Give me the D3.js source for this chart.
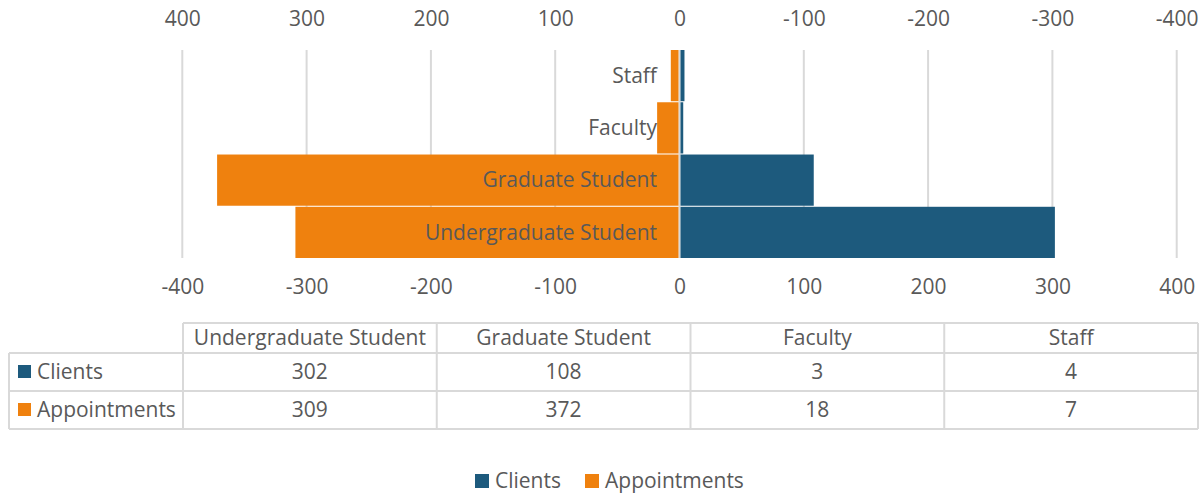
<!DOCTYPE html>
<html>
<head>
<meta charset="utf-8">
<script src="https://d3js.org/d3.v7.min.js"></script>
<style>
    body { margin: 0; background: #fff; }
    svg { display: block; font-family: 'Open Sans', sans-serif; }
</style>
</head>
<body>
<div id="chart"></div>
<script>
const w = 1201
const h = 496

const categories = ['Undergraduate Student', 'Graduate Student', 'Faculty', 'Staff']
const clients = [302, 108, 3, 4]
const appointments = [309, 372, 18, 7]
const tickValues = [-400, -300, -200, -100, 0, 100, 200, 300, 400]
const seriesNames = ['Clients', 'Appointments']
const colors = ['#1d5a7d', '#ef810e']

const textColor = '#595959'
const gridColor = '#d9d9d9'
const fontSize = 21

const svg = d3.select('#chart')
    .append('svg')
    .attr('width', w)
    .attr('height', h)

const xScale = d3.scaleLinear()
    .domain([-400, 400])
    .range([182.3, 1176.7])

// secondary (top) axis runs the other way
const xTop = d3.scaleLinear()
    .domain([400, -400])
    .range([182.3, 1176.7])

const yScale = d3.scaleBand()
    .domain(categories.slice().reverse())
    .range([50, 258])
    .paddingInner(0.02)

// gridlines
svg.append('g')
    .selectAll('line')
    .data(tickValues)
    .enter()
    .append('line')
    .attr('x1', d => xScale(d))
    .attr('x2', d => xScale(d))
    .attr('y1', 50)
    .attr('y2', 258)
    .attr('stroke', gridColor)
    .attr('stroke-width', 2)

// appointments go left as negatives
svg.append('g')
    .selectAll('rect')
    .data(categories)
    .enter()
    .append('rect')
    .attr('x', (d, i) => xScale(-appointments[i]))
    .attr('y', d => yScale(d))
    .attr('width', (d, i) => xScale(0) - xScale(-appointments[i]) - 1)
    .attr('height', yScale.bandwidth())
    .attr('fill', colors[1])

svg.append('g')
    .selectAll('rect')
    .data(categories)
    .enter()
    .append('rect')
    .attr('x', xScale(0) + 1)
    .attr('y', d => yScale(d))
    .attr('width', (d, i) => xScale(clients[i]) - xScale(0) - 1)
    .attr('height', yScale.bandwidth())
    .attr('fill', colors[0])

// category labels
svg.append('g')
    .selectAll('text')
    .data(categories)
    .enter()
    .append('text')
    .attr('x', 657)
    .attr('y', d => yScale(d) + yScale.bandwidth() / 2)
    .attr('dy', '0.35em')
    .attr('text-anchor', 'end')
    .attr('fill', textColor)
    .style('font-size', fontSize + 'px')
    .text(d => d)

// plain hyphen for negatives, like the original
const fmt = d => String(d)

const xAxisTop = d3.axisTop(xTop)
    .tickValues(tickValues)
    .tickFormat(fmt)
    .tickSize(0)
    .tickPadding(0)

const xAxisBottom = d3.axisBottom(xScale)
    .tickValues(tickValues)
    .tickFormat(fmt)
    .tickSize(0)
    .tickPadding(0)

svg.append('g')
    .attr('transform', 'translate(0, 26)')
    .call(xAxisTop)
    .call(g => g.select('.domain').remove())
    .call(g => g.selectAll('text')
        .attr('fill', textColor)
        .style('font-size', fontSize + 'px')
        .style('font-family', "'Open Sans', sans-serif"))

svg.append('g')
    .attr('transform', 'translate(0, 279)')
    .call(xAxisBottom)
    .call(g => g.select('.domain').remove())
    .call(g => g.selectAll('text')
        .attr('fill', textColor)
        .style('font-size', fontSize + 'px')
        .style('font-family', "'Open Sans', sans-serif"))

// data table
const colEdges = d3.range(5).map(i => 183 + i * 253.75)
const rowEdges = [323, 353, 391, 429]
const labelLeft = 9
const table = svg.append('g')
    .attr('stroke', gridColor)
    .attr('stroke-width', 2)

table.append('line')
    .attr('x1', colEdges[0]).attr('x2', colEdges[4])
    .attr('y1', rowEdges[0]).attr('y2', rowEdges[0])
table.selectAll('.hrow')
    .data(rowEdges.slice(1))
    .enter()
    .append('line')
    .attr('x1', labelLeft).attr('x2', colEdges[4])
    .attr('y1', d => d).attr('y2', d => d)
table.selectAll('.vcol')
    .data(colEdges)
    .enter()
    .append('line')
    .attr('x1', d => d).attr('x2', d => d)
    .attr('y1', rowEdges[0]).attr('y2', rowEdges[3])
table.append('line')
    .attr('x1', labelLeft).attr('x2', labelLeft)
    .attr('y1', rowEdges[1]).attr('y2', rowEdges[3])

const tableText = svg.append('g')
    .attr('fill', textColor)
    .style('font-size', fontSize + 'px')

tableText.selectAll('.head')
    .data(categories)
    .enter()
    .append('text')
    .attr('x', (d, i) => (colEdges[i] + colEdges[i + 1]) / 2)
    .attr('y', (rowEdges[0] + rowEdges[1]) / 2)
    .attr('dy', '0.35em')
    .attr('text-anchor', 'middle')
    .text(d => d)

const rows = [clients, appointments]
rows.forEach((vals, r) => {
    const cy = (rowEdges[r + 1] + rowEdges[r + 2]) / 2
    svg.append('rect')
        .attr('x', 18)
        .attr('y', cy - 7)
        .attr('width', 13)
        .attr('height', 13)
        .attr('fill', colors[r])
    tableText.append('text')
        .attr('x', 37)
        .attr('y', cy)
        .attr('dy', '0.35em')
        .text(seriesNames[r])
    tableText.selectAll('.v' + r)
        .data(vals)
        .enter()
        .append('text')
        .attr('x', (d, i) => (colEdges[i] + colEdges[i + 1]) / 2)
        .attr('y', cy)
        .attr('dy', '0.35em')
        .attr('text-anchor', 'middle')
        .text(d => d)
})

// legend
const legend = svg.append('g')
    .attr('transform', 'translate(475, 481)')
let lx = 0
seriesNames.forEach((name, i) => {
    legend.append('rect')
        .attr('x', lx)
        .attr('y', -7)
        .attr('width', 14)
        .attr('height', 14)
        .attr('fill', colors[i])
    const t = legend.append('text')
        .attr('x', lx + 20)
        .attr('y', 0)
        .attr('dy', '0.35em')
        .attr('fill', textColor)
        .style('font-size', fontSize + 'px')
        .text(name)
    lx += 20 + t.node().getComputedTextLength() + 24
})
</script>
</body>
</html>
